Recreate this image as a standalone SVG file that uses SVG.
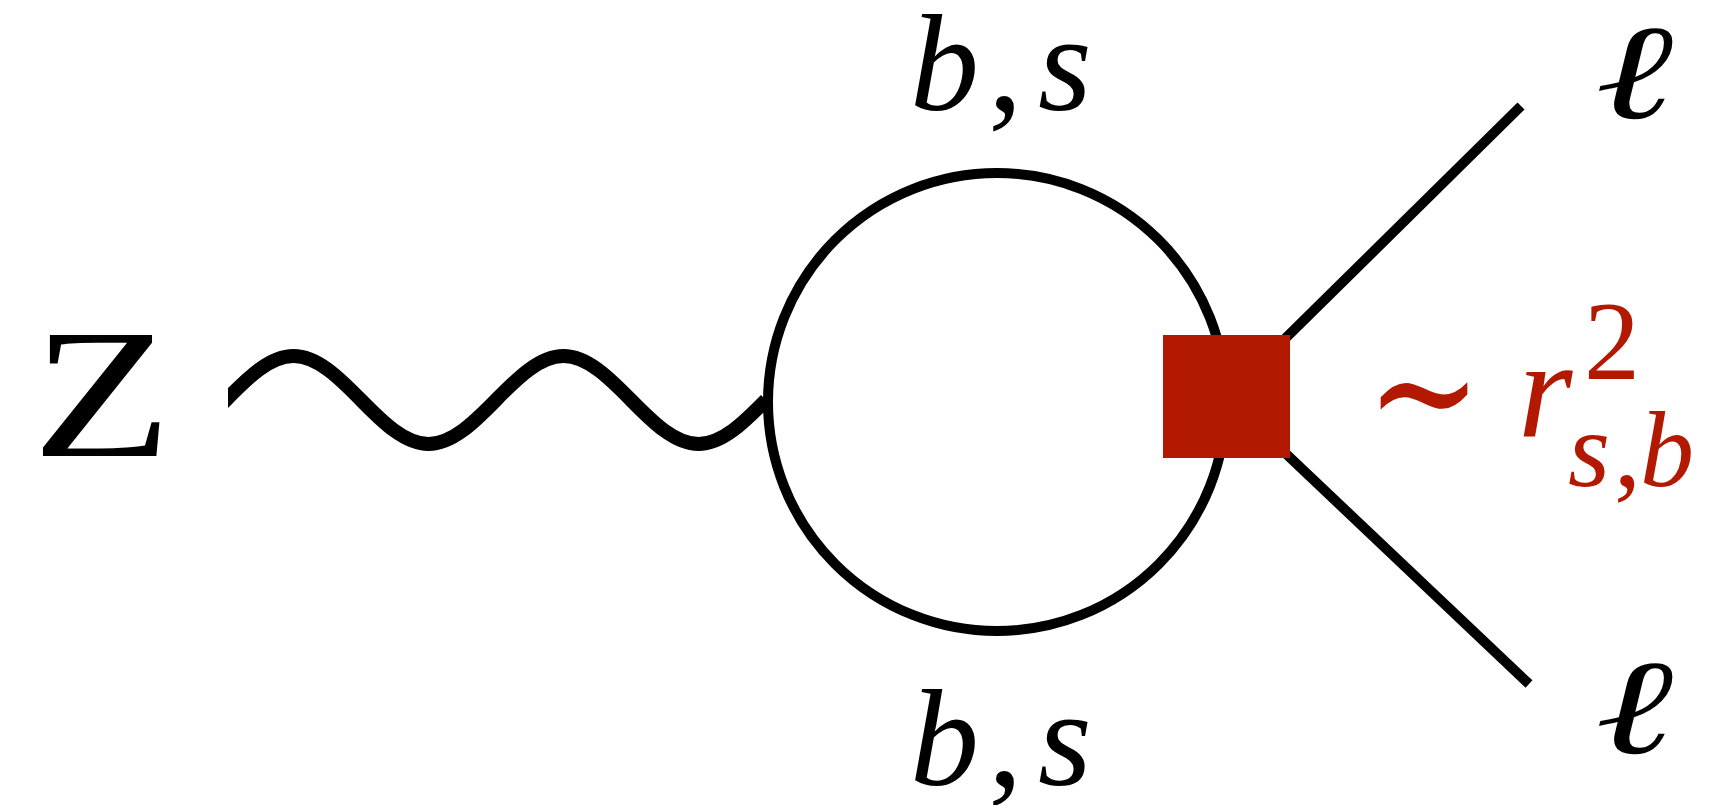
<svg xmlns="http://www.w3.org/2000/svg" width="1732" height="805" viewBox="0 0 1732 805">
<style>
.ln{fill:none;stroke:#000;stroke-width:10}
.t{font-family:"Liberation Serif","Times New Roman","DejaVu Serif",serif;fill:#000}
.i{font-style:italic}
.red{fill:#b31800}
</style>
<defs>
<clipPath id="waveclip"><rect x="228" y="300" width="560" height="200"/></clipPath>
</defs>
<rect width="1732" height="805" fill="#fff"/>
<g id="connectors">
<path id="photon" clip-path="url(#waveclip)" d="M158.5,444 C182.2,444 204,422.5 226,400 S269.8,356 293.5,356 S339,377.5 361,400 S404.8,444 428.5,444 S474,422.5 496,400 S539.8,356 563.5,356 S609,377.5 631,400 S674.8,444 698.5,444 S744,422.5 766,400" fill="none" stroke="#000" stroke-width="14"/>
<circle id="loop" class="ln" cx="997" cy="402" r="229" stroke-width="11"/>
<line id="lep-up" class="ln" x1="1226" y1="397" x2="1521" y2="106"/>
<line id="lep-down" class="ln" x1="1226" y1="397" x2="1529" y2="684"/>
</g>
<g id="vertex">
<rect x="1163" y="335" width="127" height="123" class="red"/>
</g>
<g id="label-Z"><text class="t" x="32" y="456" font-size="185" textLength="140" lengthAdjust="spacingAndGlyphs">Z</text></g>
<g id="label-top"><text class="t" y="110" font-size="138"><tspan class="i" x="910">b</tspan><tspan x="988">,</tspan><tspan class="i" x="1038">s</tspan></text></g>
<g id="label-bottom"><text class="t" y="785" font-size="138"><tspan class="i" x="910">b</tspan><tspan x="988">,</tspan><tspan class="i" x="1038">s</tspan></text></g>
<g id="label-l-top"><text class="t i" x="1595" y="118" font-size="135" textLength="78" lengthAdjust="spacingAndGlyphs">ℓ</text></g>
<g id="label-l-bottom"><text class="t i" x="1595" y="753" font-size="135" textLength="78" lengthAdjust="spacingAndGlyphs">ℓ</text></g>
<g id="label-scaling">
<text class="t red" x="1366" y="449" font-size="170" textLength="116" lengthAdjust="spacingAndGlyphs">∼</text>
<text class="t i red" x="1518" y="436" font-size="140">r</text>
<text class="t red" x="1584" y="379" font-size="112">2</text>
<text class="t red" y="486" font-size="108"><tspan class="i" x="1568">s</tspan><tspan x="1614">,</tspan><tspan class="i" x="1640">b</tspan></text>
</g>
</svg>
